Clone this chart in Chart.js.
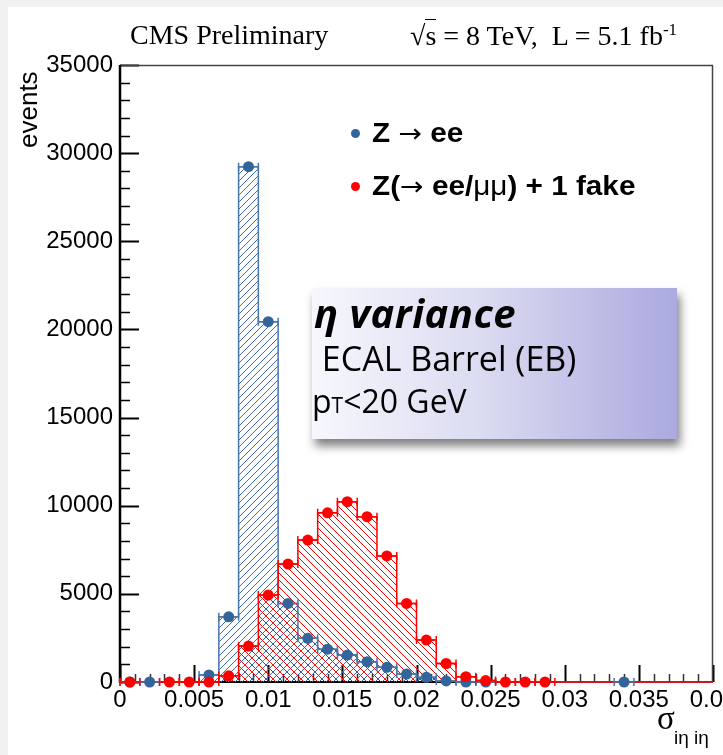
<!DOCTYPE html>
<html>
<head>
<meta charset="utf-8">
<script src="https://cdn.jsdelivr.net/npm/chart.js@4.4.0/dist/chart.umd.min.js"></script>
<style>
  html, body { margin: 0; padding: 0; background: #fff; }
  #wrap { position: relative; width: 723px; height: 755px; overflow: hidden; background: #fff; }
  #frameTop { position: absolute; left: 0; top: 0; width: 723px; height: 7px; background: #f1f1f1; }
  #frameLeft { position: absolute; left: 0; top: 0; width: 8px; height: 755px; background: #f1f1f1; }
  canvas { position: absolute; left: 0; top: 0; }
  .txt { position: absolute; white-space: pre; line-height: 1; color: #000; }
  .serif { font-family: "Liberation Serif", "DejaVu Serif", serif; }
  .sans { font-family: "Liberation Sans", Arial, sans-serif; }
  .leg { font-size: 27px; font-weight: bold; transform: scaleX(1.1); transform-origin: 0 0; }
  .arrow { font-family: "DejaVu Sans", sans-serif; font-weight: normal; font-size: 0.95em; }
  .dot { position: absolute; width: 9px; height: 9px; border-radius: 50%; }
  #note {
    position: absolute; left: 312px; top: 288px; width: 365px; height: 151px;
    background: linear-gradient(to right, #f7f7fd 0%, #dcdcf2 45%, #aba9df 100%);
    box-shadow: 3px 7px 9px rgba(0, 0, 0, 0.5);
  }
  #note .t { position: absolute; white-space: pre; line-height: 1; color: #000; font-family: "Open Sans", sans-serif; }
</style>
</head>
<body>
<div id="wrap">
  <div id="frameTop"></div>
  <div id="frameLeft"></div>
  <canvas id="chart" width="723" height="755"></canvas>

  <div class="txt serif" style="left:130px; top:21px; font-size:28px;">CMS Preliminary</div>
  <div class="txt serif" style="left:410px; top:21px; font-size:28px;">√<span style="border-top:1.5px solid #000;">s</span> = 8 TeV,  L = 5.1 fb<sup style="font-size:17px; vertical-align:10px;">-1</sup></div>

  <div class="txt sans" style="left:15px; top:148px; font-size:26px; transform:rotate(-90deg); transform-origin:0 0;">events</div>

  <div class="dot" style="left:351px; top:129px; background:#33659b;"></div>
  <div class="txt sans leg" style="left:372px; top:120px;">Z <span class="arrow">→</span> ee</div>
  <div class="dot" style="left:351px; top:182px; background:#ff0000;"></div>
  <div class="txt sans leg" style="left:372px; top:173px;">Z(<span class="arrow">→</span> ee/<span style="font-weight:normal;">μμ</span>) + 1 fake</div>

  <div id="note">
    <div class="t" style="left:2px; top:5px; font-size:40px; font-weight:bold; font-style:italic; letter-spacing:0.5px;">η variance</div>
    <div class="t" style="left:1px; top:53px; font-size:34px;"> ECAL Barrel (EB)</div>
    <div class="t" style="left:0px; top:97px; font-size:32px;">p<span style="font-size:21px;">T</span>&lt;20 GeV</div>
  </div>

  <div class="txt serif" style="left:657px; top:702px; font-size:33px;">σ</div>
  <div class="txt sans" style="left:674px; top:728px; font-size:19px;">iη iη</div>
</div>

<script>
// binning of the histograms
const xMin = 0;
const xMax = 0.04;
const nBins = 30;

// axis tick labels
const xTickLabels = ['0', '0.005', '0.01', '0.015', '0.02', '0.025', '0.03', '0.035', '0.04'];
const yTickLabels = ['0', '5000', '10000', '15000', '20000', '25000', '30000', '35000'];

// events per bin, null = no marker drawn
const zeeCounts = [0, 0, null, null, 400, 3700, 29230, 20440, 4460, 2480,
                   1860, 1530, 1150, 830, 450, 270, 60, 0, 0, null,
                   null, null, null, null, null, 0, null, null, null, null];
const fakeCounts = [0, null, 0, 0, 0, 350, 2040, 4930, 6690, 8050,
                    9600, 10230, 9380, 7150, 4460, 2380, 1050, 300, 80, 0,
                    0, 0, null, null, null, null, null, null, null, null];

const zeeLine = '#4a76a8';
const zeeHatch = '#3a6cb4';
const zeeMarker = '#33659b';
const fakeColor = '#ff0000';

const binWidth = (xMax - xMin) / nBins;

// step outline: one point per left bin edge, plus the closing right edge
function histPoints(counts) {
    const pts = counts.map((c, i) => ({ x: xMin + i * binWidth, y: c || 0 }));
    pts.push({ x: xMax, y: counts[counts.length - 1] || 0 });
    return pts;
}

function markerPoints(counts) {
    const pts = [];
    counts.forEach((c, i) => {
        if (c !== null) pts.push({ x: xMin + (i + 0.5) * binWidth, y: c });
    });
    return pts;
}

// 45 degree hatch tile
function hatch(color, rising) {
    const s = 7;
    const c = document.createElement('canvas');
    c.width = s; c.height = s;
    const g = c.getContext('2d');
    g.strokeStyle = color;
    g.lineWidth = 1;
    g.beginPath();
    if (rising) {
        g.moveTo(-1, s + 1); g.lineTo(s + 1, -1);
        g.moveTo(-1, 1); g.lineTo(1, -1);
        g.moveTo(s - 1, s + 1); g.lineTo(s + 1, s - 1);
    } else {
        g.moveTo(-1, -1); g.lineTo(s + 1, s + 1);
        g.moveTo(s - 1, -1); g.lineTo(s + 1, 1);
        g.moveTo(-1, s - 1); g.lineTo(1, s + 1);
    }
    g.stroke();
    return g.createPattern(c, 'repeat');
}

// ROOT style frame: inward ticks, box around the pad
const rootFrame = {
    id: 'rootFrame',
    beforeDatasetsDraw(chart) {
        const { ctx, chartArea: a, scales: { x, y } } = chart;
        ctx.save();
        ctx.strokeStyle = '#000';
        // minor / major ticks on y
        for (let v = 0; v <= 35000; v += 1000) {
            const py = Math.round(y.getPixelForValue(v)) + 0.5;
            const major = v % 5000 === 0;
            ctx.lineWidth = major ? 2 : 1.5;
            ctx.beginPath();
            ctx.moveTo(a.left, py);
            ctx.lineTo(a.left + (major ? 19 : 10), py);
            ctx.stroke();
        }
        // minor / major ticks on x
        for (let k = 0; k <= 40; k++) {
            const px = Math.round(x.getPixelForValue(k * 0.001)) + 0.5;
            const major = k % 5 === 0;
            ctx.lineWidth = major ? 2 : 1.5;
            ctx.strokeStyle = major ? '#000' : '#333';
            ctx.beginPath();
            ctx.moveTo(px, a.bottom);
            ctx.lineTo(px, a.bottom - (major ? 17 : 8));
            ctx.stroke();
        }
        // top and right frame
        ctx.strokeStyle = '#444';
        ctx.lineWidth = 1.5;
        ctx.beginPath();
        ctx.moveTo(a.left, a.top + 0.5);
        ctx.lineTo(a.right - 0.5, a.top + 0.5);
        ctx.lineTo(a.right - 0.5, a.bottom);
        ctx.stroke();
        // axes
        ctx.strokeStyle = '#000';
        ctx.lineWidth = 2.5;
        ctx.beginPath();
        ctx.moveTo(a.left, a.top);
        ctx.lineTo(a.left, a.bottom + 1);
        ctx.stroke();
        ctx.lineWidth = 2;
        ctx.beginPath();
        ctx.moveTo(a.left, a.bottom);
        ctx.lineTo(a.right, a.bottom);
        ctx.stroke();
        ctx.restore();
    },
    // horizontal bin-width error bars under each marker set
    beforeDatasetDraw(chart, args) {
        const ds = chart.data.datasets[args.index];
        if (!ds.errColor) return;
        const { ctx, scales: { x, y } } = chart;
        ctx.save();
        ctx.strokeStyle = ds.errColor;
        ctx.lineWidth = 1.5;
        ds.data.forEach(p => {
            const x0 = x.getPixelForValue(p.x - binWidth / 2);
            const x1 = x.getPixelForValue(p.x + binWidth / 2);
            const py = y.getPixelForValue(p.y);
            ctx.beginPath();
            ctx.moveTo(x0, py); ctx.lineTo(x1, py);
            ctx.moveTo(x0, py - 4); ctx.lineTo(x0, py + 4);
            ctx.moveTo(x1, py - 4); ctx.lineTo(x1, py + 4);
            ctx.stroke();
        });
        ctx.restore();
    }
};

const ctx = document.getElementById('chart').getContext('2d');

new Chart(ctx, {
    type: 'line',
    data: {
        datasets: [
            {
                data: histPoints(zeeCounts), stepped: 'before', fill: 'origin',
                backgroundColor: hatch(zeeHatch, true), borderColor: zeeLine,
                borderWidth: 1.5, pointRadius: 0, clip: false, order: 4
            },
            {
                data: histPoints(fakeCounts), stepped: 'before', fill: 'origin',
                backgroundColor: hatch(fakeColor, false), borderColor: fakeColor,
                borderWidth: 1.5, pointRadius: 0, clip: false, order: 3
            },
            {
                data: markerPoints(zeeCounts), showLine: false, errColor: zeeLine,
                pointRadius: 5.5, pointBorderWidth: 0, pointBackgroundColor: zeeMarker,
                clip: false, order: 2
            },
            {
                data: markerPoints(fakeCounts), showLine: false, errColor: fakeColor,
                pointRadius: 5.5, pointBorderWidth: 0, pointBackgroundColor: fakeColor,
                clip: false, order: 1
            }
        ]
    },
    options: {
        responsive: false,
        animation: false,
        events: [],
        layout: { autoPadding: false, padding: { left: 0, top: 65, right: 10, bottom: 0 } },
        plugins: { legend: { display: false }, tooltip: { enabled: false } },
        scales: {
            x: {
                type: 'linear', min: xMin, max: xMax,
                afterFit: s => { s.height = 73; s.paddingLeft = 0; s.paddingRight = 0; },
                grid: { display: true, drawOnChartArea: false, drawTicks: false },
                border: { display: false },
                ticks: {
                    stepSize: 0.005, padding: 4, maxRotation: 0, autoSkip: false,
                    color: '#000', font: { family: 'Liberation Sans', size: 24 },
                    callback: (v, i) => xTickLabels[i]
                }
            },
            y: {
                type: 'linear', min: 0, max: 35000,
                afterFit: s => { s.width = 120; s.paddingTop = 0; s.paddingBottom = 0; },
                grid: { display: true, drawOnChartArea: false, drawTicks: false },
                border: { display: false },
                ticks: {
                    stepSize: 5000, padding: 7,
                    color: '#000', font: { family: 'Liberation Sans', size: 24 },
                    callback: (v, i) => yTickLabels[i]
                }
            }
        }
    },
    plugins: [rootFrame]
});
</script>
</body>
</html>
